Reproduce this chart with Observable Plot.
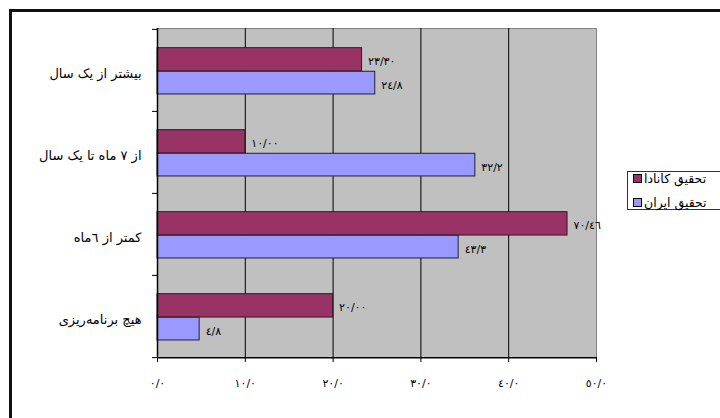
<!DOCTYPE html>
<html><head><meta charset="utf-8">
<script src="https://cdn.jsdelivr.net/npm/d3@7"></script>
<script src="https://cdn.jsdelivr.net/npm/@observablehq/plot@0.6"></script>
<style>
body{margin:0;background:#fff;font-family:"DejaVu Sans",sans-serif;}
#wrap{position:relative;width:720px;height:418px;overflow:hidden;}
#frame{position:absolute;left:9px;top:9px;width:760px;height:460px;border:3px solid #111;box-sizing:border-box;pointer-events:none;}
#legend{position:absolute;left:627px;top:171px;width:120px;height:39px;border:1px solid #333;background:#fff;box-sizing:border-box;font-size:12.5px;}
.row{position:absolute;left:5px;height:14px;display:flex;align-items:center;white-space:nowrap;}
.sw{width:7px;height:7px;border:1px solid #000;margin-right:2px;flex:none;}
#chart{position:absolute;left:0;top:0;}
</style></head>
<body>
<div id="wrap"><div id="chart"></div><div id="frame"></div><div id="legend"></div></div>
<script>
const categories = ["بیشتر از یک سال","از ٧ ماه تا یک سال","کمتر از ٦ماه","هیچ برنامه‌ریزی"];
const series = ["تحقیق کانادا","تحقیق ایران"];
const canada = [23.3, 10.0, 46.7, 20.0];
const iran = [24.8, 36.2, 34.3, 4.8];
const canadaLabels = ["٢٣/٣٠","١٠/٠٠","٧٠/٤٦","٢٠/٠٠"];
const iranLabels = ["٢٤/٨","٣٢/٢","٤٣/٣","٤/٨"];
const xTicks = [0,10,20,30,40,50];
const xTickLabels = ["٠/٠","١٠/٠","٢٠/٠","٣٠/٠","٤٠/٠","٥٠/٠"];
const colors = ["#993366","#9999ff"];

const rows = categories.flatMap((c,i)=>[
  {category:c, series:series[0], value:canada[i], label:canadaLabels[i]},
  {category:c, series:series[1], value:iran[i], label:iranLabels[i]}
]);
const canadaRows = rows.filter(d=>d.series===series[0]);
const iranRows = rows.filter(d=>d.series===series[1]);

const W = 720, H = 418, mt = 28, mb = 61, ml = 157, mr = 124;
const bandH = (H - mt - mb) / categories.length;
const cTop = bandH*0.227, cBot = bandH*0.486, iTop = bandH*0.514, iBot = bandH*0.207;
const cCenter = (cTop + (bandH - cBot))/2 - bandH/2;
const iCenter = (iTop + (bandH - iBot))/2 - bandH/2;

const chart = Plot.plot({
  width: W, height: H,
  marginTop: mt, marginBottom: mb, marginLeft: ml, marginRight: mr,
  style: {fontFamily: "DejaVu Sans", fontSize: "11px", background: "transparent", overflow: "visible", color: "#000"},
  x: {domain: [0, 50], axis: null},
  y: {domain: categories, padding: 0, axis: null},
  color: {domain: series, range: colors},
  marks: [
    Plot.frame({fill: "#c0c0c0", stroke: "#808080"}),
    Plot.ruleX(xTicks.slice(1, -1), {stroke: "#000", strokeWidth: 1}),
    Plot.barX(canadaRows, {x: "value", y: "category", fill: "series", stroke: "#222", strokeWidth: 1, insetTop: cTop, insetBottom: cBot}),
    Plot.barX(iranRows, {x: "value", y: "category", fill: "series", stroke: "#222", strokeWidth: 1, insetTop: iTop, insetBottom: iBot}),
    Plot.ruleX([0], {stroke: "#000", strokeWidth: 1.5}),
    Plot.ruleY([categories[categories.length-1]], {y: d=>d, dy: bandH/2, stroke: "#000", strokeWidth: 1.5}),
    Plot.ruleY(categories, {y: d=>d, dy: -bandH/2, x1: 0, x2: 0, insetLeft: -5, stroke: "#000"}),
    Plot.ruleY([categories[categories.length-1]], {y: d=>d, dy: bandH/2, x1: 0, x2: 0, insetLeft: -5, stroke: "#000"}),
    Plot.text(canadaRows, {x: "value", y: "category", text: "label", dx: 6, dy: cCenter + 2, textAnchor: "start", fontSize: 11, fill: "#000"}),
    Plot.text(iranRows, {x: "value", y: "category", text: "label", dx: 6, dy: iCenter + 2, textAnchor: "start", fontSize: 11, fill: "#000"}),
    Plot.axisX(xTicks, {anchor: "bottom", tickSize: 5, tickPadding: 17, tickFormat: d => xTickLabels[xTicks.indexOf(d)], fontSize: 11, label: null, stroke: "#000"}),
    Plot.axisY(categories, {anchor: "left", tickSize: 0, tickPadding: 16, fontSize: 13, label: null, dy: 3})
  ]
});
document.getElementById("chart").appendChild(chart);

const legend = document.getElementById("legend");
series.forEach((s, i) => {
  const r = document.createElement("div");
  r.className = "row";
  r.style.top = (i === 0 ? -1 : 23) + "px";
  const sw = document.createElement("span");
  sw.className = "sw";
  sw.style.background = colors[i];
  const t = document.createElement("span");
  t.textContent = s;
  r.appendChild(sw); r.appendChild(t);
  legend.appendChild(r);
});
</script>
</body></html>
